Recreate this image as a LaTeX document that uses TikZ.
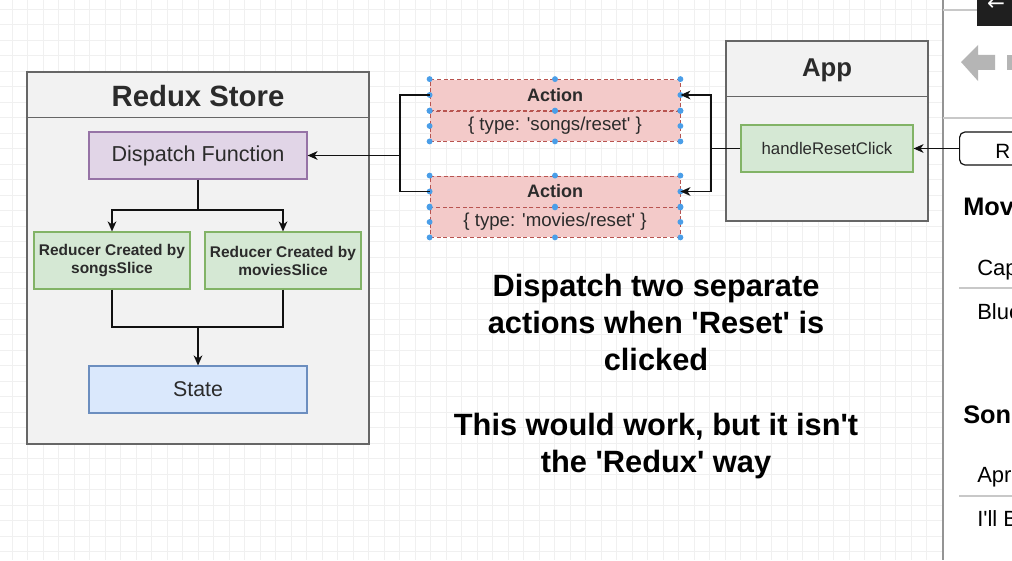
\documentclass[tikz,border=0pt]{standalone}
\usepackage{fontspec}
\setmainfont{Liberation Sans}
\newfontfamily\uifont{Liberation Sans}
\newfontfamily\arrowfont{DejaVu Sans}
\usetikzlibrary{arrows.meta}

\definecolor{gridgray}{HTML}{F0F0F0}
\definecolor{panelfill}{HTML}{F2F2F2}
\definecolor{panelline}{HTML}{666666}
\definecolor{textdark}{HTML}{2B2B2B}
\definecolor{purplefill}{HTML}{E1D5E7}
\definecolor{purpleline}{HTML}{9673A6}
\definecolor{greenfill}{HTML}{D5E8D4}
\definecolor{greenline}{HTML}{82B366}
\definecolor{bluefill}{HTML}{DAE8FC}
\definecolor{blueline}{HTML}{6C8EBF}
\definecolor{redfill}{HTML}{F3CAC9}
\definecolor{redline}{HTML}{B85450}
\definecolor{handleblue}{HTML}{4A9EE8}
\definecolor{linkblack}{HTML}{111111}
\definecolor{icongray}{HTML}{B5B5B5}
\definecolor{rulegray}{HTML}{C8C8C8}

\tikzset{%
        grid line/.style={
            draw=gridgray,
            line width=0.5pt
        },
        every box/.style={
            draw,
            line width=0.8pt,
            inner sep=0pt,
            align=center,
            text=textdark
        },
        box panel/.style={
            fill=panelfill,
            draw=panelline
        },
        box dispatch/.style={
            fill=purplefill, draw=purpleline,
            minimum width=163.5pt, minimum height=35.25pt,
            font=\uifont\fontsize{16.2}{19}\selectfont
        },
        box slice/.style={
            fill=greenfill, draw=greenline,
            minimum width=117pt, minimum height=42.75pt,
            font=\uifont\bfseries\fontsize{11.6}{13.5}\selectfont
        },
        box state/.style={
            fill=bluefill, draw=blueline,
            minimum width=163.5pt, minimum height=35.25pt,
            font=\uifont\fontsize{16}{19}\selectfont
        },
        box action/.style={
            fill=redfill, draw=redline,
            densely dashed, line width=0.6pt,
            minimum width=187.5pt
        },
        action head/.style={
            box action, minimum height=23.25pt,
            font=\uifont\bfseries\fontsize{13.5}{16}\selectfont
        },
        action body/.style={
            box action, minimum height=22.5pt,
            font=\uifont\fontsize{14}{16}\selectfont
        },
        title text/.style={
            text=textdark,
            font=\uifont\bfseries\fontsize{22}{26}\selectfont
        },
        note text/.style={
            align=center, inner sep=0pt, anchor=base,
            font=\uifont\bfseries\fontsize{23.1}{27.6}\selectfont
        },
        list head/.style={
            anchor=base west, inner sep=0pt,
            font=\uifont\bfseries\fontsize{19}{22}\selectfont
        },
        list item/.style={
            anchor=base west, inner sep=0pt,
            font=\uifont\fontsize{16.5}{19}\selectfont
        },
        link/.style={
            draw=linkblack,
            line width=1.1pt
        },
        handle dot/.style={
            fill=handleblue
        },
        thin rule/.style={
            draw=rulegray,
            line width=0.8pt
        }
    }

\begin{document}
\begin{tikzpicture}[x=0.75pt, y=-0.75pt, >={Stealth[length=7.5pt, width=6.5pt, inset=2.2pt]}]

        \clip (0,0) rectangle (1012,560);
        \fill [white] (0,0) rectangle (1012,560);

        % background grid
        \foreach \gx in {12,27.5,...,940}
        \draw [grid line] (\gx,0) -- (\gx,560);
        \foreach \gy in {9,24.5,...,560}
        \draw [grid line] (0,\gy) -- (943,\gy);

        % redux store
        \node [every box, box panel, minimum width=256.5pt, minimum height=279pt] (store) at (198,258) {};
        \draw [draw=panelline, line width=0.8pt] ([yshift=-34.5pt]store.north west) -- ([yshift=-34.5pt]store.north east);
        \node [title text] (store-title) at (198,96) {Redux Store};

        \node [every box, box dispatch] (dispatch) at (198,155.5) {Dispatch Function};

        \foreach \m/\x in {songs/112,movies/283}
        \node [every box, box slice] (reducer-\m) at (\x,260.5) {Reducer Created by\\\m Slice};

        \node [every box, box state] (state) at (198,389.5) {State};

        \coordinate (fork) at (198,210);
        \coordinate (join) at (198,327);
        \draw [link] (dispatch.south) -- (fork);
        \foreach \m in {songs,movies}
        \draw [link, ->] (fork) -| (reducer-\m.north);
        \foreach \m in {songs,movies}
        \draw [link] (reducer-\m.south) |- (join);
        \draw [link, ->] (join) -- (state.north);

        % actions
        \foreach \m [count=\i] in {songs,movies} {
        \node [every box, action head] (action-\m-head) at (555,{95+(\i-1)*96.5}) {Action};
        \node [every box, action body] (action-\m-body) at (555,{126+(\i-1)*96}) {\{ type: '\m/reset' \}};
        }

        \foreach \n in {songs-head,songs-body,movies-head,movies-body}
        \foreach \a in {north west,north,north east,west,east,south west,south,south east}
            \fill [handle dot] (action-\n.\a) circle (2.2pt);

        \coordinate (merge) at (400,155.5);
        \foreach \m in {songs,movies}
        \draw [link] (action-\m-head.west) -| (merge);
        \draw [link, ->] (merge) -- (dispatch.east);

        % app
        \node [every box, box panel, minimum width=151.5pt, minimum height=135pt] (app) at (827,131) {};
        \draw [draw=panelline, line width=0.8pt] ([yshift=-42pt]app.north west) -- ([yshift=-42pt]app.north east);
        \node [title text, font=\uifont\bfseries\fontsize{19.3}{23}\selectfont] (app-title) at (827,70) {App};
        \node [every box, box slice, minimum width=129pt, minimum height=35.25pt,
            font=\uifont\fontsize{12.6}{15}\selectfont] (handler) at (827,148.5) {handleResetClick};

        \coordinate (branch) at (711,148.5);
        \draw [link] (handler.west) -- (branch);
        \foreach \m in {songs,movies}
        \draw [link, ->] (branch) |- (action-\m-head.east);

        % notes
        \node [note text] (note-dispatch) at (656,370) {Dispatch two separate\\actions when 'Reset' is\\clicked};
        \node [note text] (note-redux) at (656,472) {This would work, but it isn't\\the 'Redux' way};

        % app preview panel
        \fill [white] (943,0) rectangle (1012,560);
        \draw [draw=panelline!70, line width=1pt] (943,0) -- (943,560);
        \fill [black!88] (977,0) rectangle (1012,26);
        \node [text=white, inner sep=0pt, font=\arrowfont\fontsize{16}{16}\selectfont] (back-arrow) at (996,5) {←};
        \draw [thin rule] (943,10) -- (977,10);
        \fill [icongray] (961,62) -- (978,45) -- (978,55) -- (995,55) -- (995,70) -- (978,70) -- (978,81) -- cycle;
        \fill [icongray] (1007,55) rectangle (1016,70);
        \draw [thin rule] (943,118) -- (1012,118);

        \node [draw=linkblack, line width=0.9pt, rounded corners=4pt, anchor=west,
            minimum width=60pt, minimum height=24.75pt] (reset-button) at (959,148.5) {};
        \node [list item, font=\uifont\fontsize{15.5}{18}\selectfont] (reset-label) at (995,158) {R};
        \draw [link, ->] (reset-button.west) -- (handler.east);

        \node [list head] (movies-head) at (963,215) {Mov};
        \node [list item] (movies-1) at (977,275) {Cap};
        \draw [thin rule] (959,288) -- (1012,288);
        \node [list item] (movies-2) at (977,319) {Blue};

        \node [list head] (songs-head) at (963,423) {Son};
        \node [list item] (songs-1) at (977,482) {Apri};
        \draw [thin rule] (959,496) -- (1012,496);
        \node [list item] (songs-2) at (977,526) {I'll B};
    \end{tikzpicture}
\end{document}
